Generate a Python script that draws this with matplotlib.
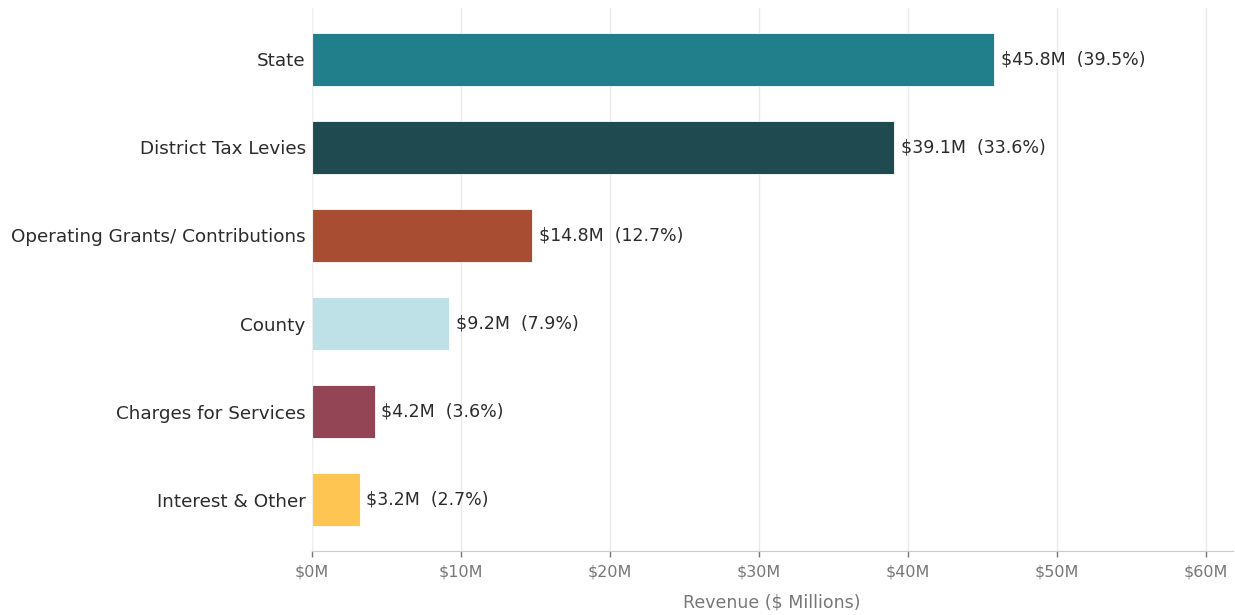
import matplotlib.pyplot as plt
import matplotlib.ticker as mticker

categories = ["State", "District Tax Levies", "Operating Grants/ Contributions",
              "County", "Charges for Services", "Interest & Other"]
values = [45.8, 39.1, 14.8, 9.2, 4.2, 3.2]
shares = [39.5, 33.6, 12.7, 7.9, 3.6, 2.7]
colors = ["#217F8C", "#1E4A50", "#A84D31", "#BDE1E6", "#934455", "#FFC553"]

fig = plt.figure(figsize=(12.35, 6.15), dpi=100)
ax = fig.add_axes([0.2526, 0.104, 0.7454, 0.883])

ypos = list(range(len(categories)))[::-1]
ax.barh(ypos, values, height=0.6, color=colors, edgecolor="white", linewidth=0.6, zorder=2)

for y, v, s in zip(ypos, values, shares):
    ax.text(v + 0.45, y, f"${v:.1f}M  ({s:.1f}%)", va="center", ha="left",
            fontsize=12.5, color="#2b2b2b")

ax.set_yticks(ypos)
ax.set_yticklabels(categories, fontsize=13.2, color="#2b2b2b")
ax.tick_params(axis="y", length=0, pad=4.5)
ax.set_xlim(0, 61.8)
ax.set_xticks(range(0, 61, 10))
ax.xaxis.set_major_formatter(mticker.FuncFormatter(lambda x, p: f"${x:.0f}M"))
ax.tick_params(axis="x", colors="#777777", labelsize=11.5, length=4, width=1, pad=6)
ax.set_xlabel("Revenue ($ Millions)", fontsize=12.5, color="#777777", labelpad=10)

ax.grid(axis="x", color="#eaeaea", linewidth=1, zorder=0)
ax.set_axisbelow(True)
for side in ["top", "right"]:
    ax.spines[side].set_visible(False)
ax.spines["left"].set_color("#eeeeee")
ax.spines["bottom"].set_color("#cccccc")

fig.savefig("out.png", dpi=100)
